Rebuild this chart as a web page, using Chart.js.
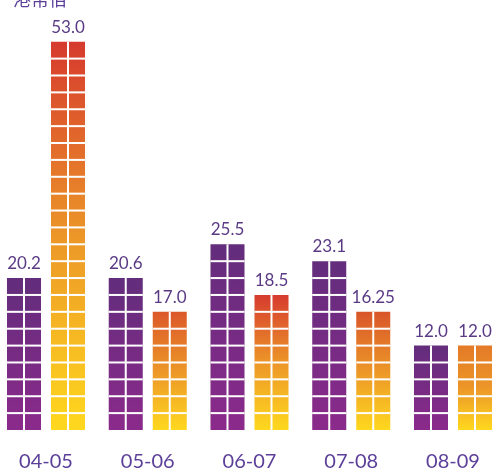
<!DOCTYPE html>
<html>
<head>
<meta charset="utf-8">
<script src="https://cdn.jsdelivr.net/npm/chart.js@4.4.0/dist/chart.umd.min.js"></script>
<style>
  html, body { margin: 0; padding: 0; background: #fff; overflow: hidden; }
  canvas { display: block; }
</style>
</head>
<body>
<canvas id="chart" width="493" height="476"></canvas>
<script>
const years = ['04-05', '05-06', '06-07', '07-08', '08-09'];
const purpleValues = [20.2, 20.6, 25.5, 23.1, 12.0];
const orangeValues = [53.0, 17.0, 18.5, 16.25, 12.0];
const unitLabel = '港幣佰';

// one small square is about 2.3 units, bars are shown in whole squares
const CELL = 2.3;
const orangeTops = ['#d63a2e', '#dc582a', '#d63b2e', '#d9552a', '#e47a28'];

function toCells(v) {
    return Math.round(v / CELL) * CELL;
}

function fmt(v) {
    return Number.isInteger(v) ? v.toFixed(1) : String(v);
}

function barFill(c, stops) {
    const chart = c.chart;
    if (!chart.chartArea || c.type !== 'data') return stops[0][1];
    const y = chart.scales.y;
    const base = y.getPixelForValue(0);
    const top = y.getPixelForValue(c.raw);
    const g = chart.ctx.createLinearGradient(0, base, 0, top);
    stops.forEach(s => g.addColorStop(s[0], s[1]));
    return g;
}

// white lines that cut each bar into squares
const cellGrid = {
    id: 'cellGrid',
    afterDatasetsDraw(chart) {
        const ctx = chart.ctx;
        const y = chart.scales.y;
        const step = y.getPixelForValue(0) - y.getPixelForValue(CELL);
        ctx.save();
        ctx.fillStyle = '#ffffff';
        chart.data.datasets.forEach((ds, i) => {
            chart.getDatasetMeta(i).data.forEach(bar => {
                const half = bar.width / 2;
                ctx.fillRect(bar.x - 1, bar.y, 2, bar.base - bar.y);
                for (let p = bar.base - step; p > bar.y + 2; p -= step) {
                    ctx.fillRect(bar.x - half, p - 1, bar.width, 2);
                }
            });
        });
        ctx.restore();
    }
};

// value above each bar and the unit text at top left
const valueLabels = {
    id: 'valueLabels',
    afterDraw(chart) {
        const ctx = chart.ctx;
        const raw = [purpleValues, orangeValues];
        ctx.save();
        ctx.fillStyle = '#5a3a85';
        ctx.font = '17px Lato';
        ctx.textAlign = 'center';
        ctx.textBaseline = 'alphabetic';
        chart.data.datasets.forEach((ds, i) => {
            chart.getDatasetMeta(i).data.forEach((bar, j) => {
                ctx.fillText(fmt(raw[i][j]), bar.x, bar.y - 9);
            });
        });
        ctx.textAlign = 'left';
        ctx.fillStyle = '#5b3f99';
        ctx.font = '18px "Noto Sans CJK TC"';
        ctx.fillText(unitLabel, 13, 6);
        ctx.restore();
    }
};

new Chart(document.getElementById('chart'), {
    type: 'bar',
    data: {
        labels: years,
        datasets: [
            {
                label: 'a',
                data: purpleValues.map(toCells),
                backgroundColor: c => barFill(c, [[0, '#8b2a8b'], [1, '#632d7c']]),
                clip: false
            },
            {
                label: 'b',
                data: orangeValues.map(toCells),
                backgroundColor: c => barFill(c, [[0, '#ffd81e'], [0.5, '#ec9628'], [1, orangeTops[c.dataIndex] || '#d63a2e']]),
                clip: false
            }
        ]
    },
    options: {
        responsive: false,
        animation: false,
        categoryPercentage: 0.865,
        barPercentage: 0.773,
        layout: { padding: { left: 46, right: 40, top: 41, bottom: 0 } },
        plugins: {
            legend: { display: false },
            tooltip: { enabled: false }
        },
        scales: {
            x: {
                offset: false,
                grid: { display: false, drawTicks: true, tickLength: 18 },
                border: { display: false },
                ticks: {
                    color: '#5b3f99',
                    font: { family: 'Lato', size: 20 },
                    padding: 2,
                    autoSkip: false,
                    maxRotation: 0
                }
            },
            y: { display: false, min: 0, max: 53 }
        }
    },
    plugins: [cellGrid, valueLabels]
});
</script>
</body>
</html>
